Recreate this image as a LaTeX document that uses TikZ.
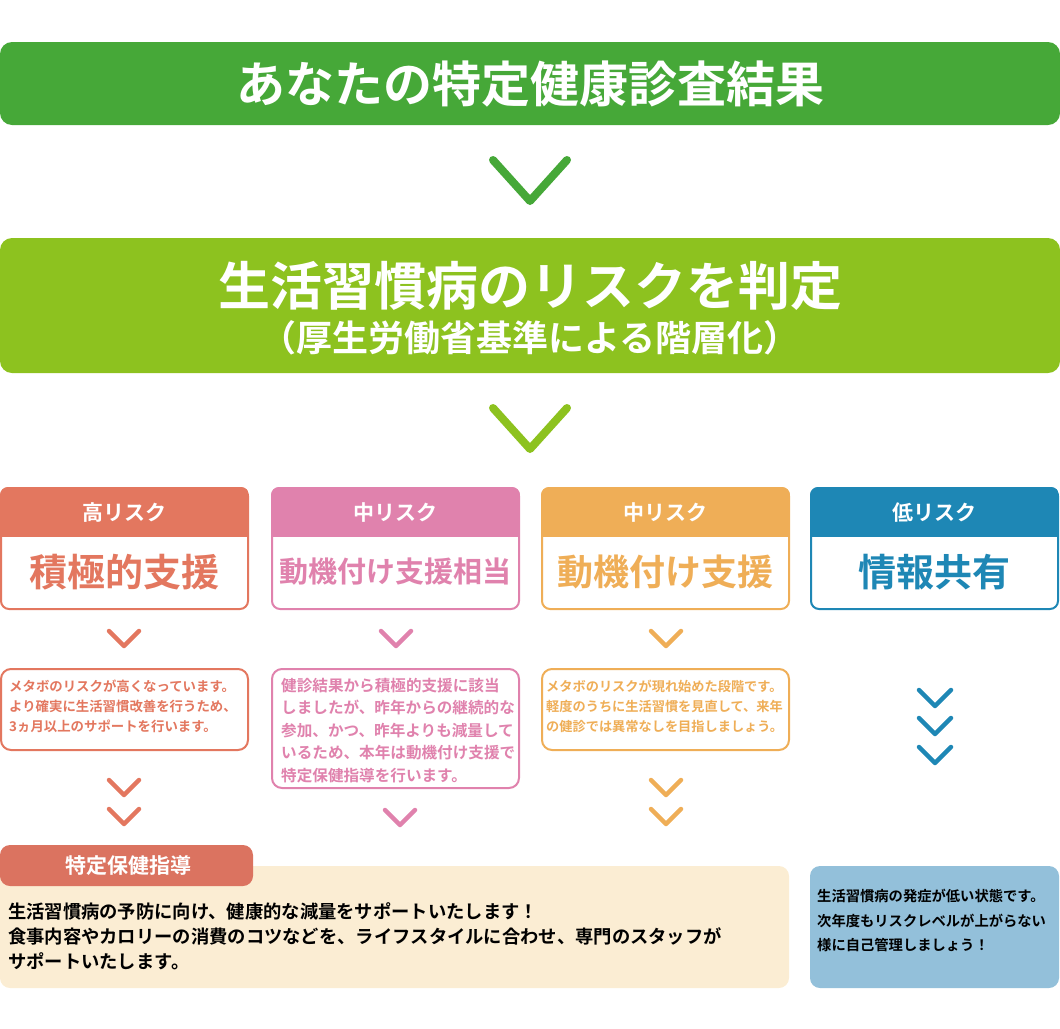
\documentclass[tikz,border=0pt]{standalone}
\usepackage{fontspec}
\setmainfont{Noto Sans CJK JP}[BoldFont={Noto Sans CJK JP Bold}]
\definecolor{gA}{HTML}{46A838}
\definecolor{gB}{HTML}{8DC21F}
\definecolor{cR}{HTML}{E3775F}
\definecolor{cP}{HTML}{E082AD}
\definecolor{cO}{HTML}{EFAE57}
\definecolor{cB}{HTML}{1E87B5}
\definecolor{bgF}{HTML}{FBEDD3}
\definecolor{bgB}{HTML}{93C0DA}
\definecolor{tagR}{HTML}{DB7360}
\begin{document}
\begin{tikzpicture}[x=1pt,y=-1pt,font=\bfseries,
  chev/.style={line width=#1,line cap=round,line join=round},
  cat/.style={draw=#1,fill=white,line width=2pt,rounded corners=8pt},
  desc/.style={draw=#1,fill=white,line width=2pt,rounded corners=10pt},
  dtext/.style={text=#1,font=\bfseries\fontsize{13.4}{20}\selectfont,align=left,anchor=north west,inner sep=0pt}]
\useasboundingbox (0,0) rectangle (1060,1028);
% top boxes
\fill[gA,rounded corners=12pt] (0,42) rectangle (1060,125);
\node[text=white,font=\bfseries\fontsize{49}{50}\selectfont] (t1) at (530,84) {あなたの特定健康診査結果};
\draw[gA,chev=8pt] (493,160) -- (530,201) -- (567,160);
\fill[gB,rounded corners=12pt] (0,238) rectangle (1060,373);
\node[text=white,font=\bfseries\fontsize{52}{54}\selectfont] (t2) at (530,286) {生活習慣病のリスクを判定};
\node[text=white,font=\bfseries\fontsize{36}{38}\selectfont] (t3) at (530,338) {（厚生労働省基準による階層化）};
\draw[gB,chev=8pt] (493,408) -- (530,449) -- (567,408);
% categories
\foreach \x/\c/\h/\m/\s in {0/cR/高リスク/積極的支援/38, 271/cP/中リスク/動機付け支援相当/29, 541/cO/中リスク/動機付け支援/36, 810/cB/低リスク/情報共有/38}{
  \draw[cat=\c] (\x+1,488) rectangle (\x+248,609);
  \begin{scope}
  \clip[rounded corners=8pt] (\x,487) rectangle (\x+249,610);
  \fill[\c] (\x,487) rectangle (\x+249,537);
  \end{scope}
  \node[text=white,font=\bfseries\fontsize{21}{22}\selectfont] at (\x+124.5,513) {\h};
  \node[text=\c,font=\bfseries\fontsize{\s}{40}\selectfont] at (\x+124.5,572) {\m};
}
% small chevrons
\draw[cR,chev=4.5pt] (109,631) -- (124,646) -- (139,631);
\draw[cP,chev=4.5pt] (381,631) -- (396,646) -- (411,631);
\draw[cO,chev=4.5pt] (651,631) -- (666,646) -- (681,631);
% desc boxes
\draw[desc=cR] (1,669) rectangle (248,750);
\node[dtext=cR] (d1) at (9,680) {メタボのリスクが高くなっています。\\より確実に生活習慣改善を行うため、\\3ヵ月以上のサポートを行います。};
\draw[desc=cP] (272,669) rectangle (519,788);
\node[dtext=cP,font=\bfseries\fontsize{15.6}{22.5}\selectfont] (d2) at (281,678) {健診結果から積極的支援に該当\\しましたが、昨年からの継続的な\\参加、かつ、昨年よりも減量して\\いるため、本年は動機付け支援で\\特定保健指導を行います。};
\draw[desc=cO] (542,669) rectangle (789,750);
\node[dtext=cO,font=\bfseries\fontsize{13.2}{20}\selectfont] (d3) at (546,680) {メタボのリスクが現れ始めた段階です。\\軽度のうちに生活習慣を見直して、来年\\の健診では異常なしを目指しましょう。};
% lower chevrons
\draw[cR,chev=4.5pt] (109,780) -- (124,795) -- (139,780);
\draw[cR,chev=4.5pt] (109,809) -- (124,824) -- (139,809);
\draw[cP,chev=4.5pt] (385,810) -- (400,825) -- (415,810);
\draw[cO,chev=4.5pt] (651,780) -- (666,795) -- (681,780);
\draw[cO,chev=4.5pt] (651,809) -- (666,824) -- (681,809);
\foreach \y in {690,718,747}
  \draw[cB,chev=4.5pt] (919,\y) -- (935,\y+16) -- (951,\y);
% footer
\fill[bgF,rounded corners=10pt] (0,866) rectangle (789,988);
\fill[tagR,rounded corners=10pt] (0,845) rectangle (253,886);
\node[text=white,font=\bfseries\fontsize{21}{22}\selectfont] (tag) at (128,866) {特定保健指導};
\node[dtext=black,font=\bfseries\fontsize{18.3}{25}\selectfont] (f1) at (8,902) {生活習慣病の予防に向け、健康的な減量をサポートいたします！\\食事内容やカロリーの消費のコツなどを、ライフスタイルに合わせ、専門のスタッフが\\サポートいたします。};
\fill[bgB,rounded corners=10pt] (810,866) rectangle (1059,988);
\node[dtext=black,font=\bfseries\fontsize{14.3}{24.5}\selectfont] (f2) at (817,889) {生活習慣病の発症が低い状態です。\\次年度もリスクレベルが上がらない\\様に自己管理しましょう！};
\end{tikzpicture}
\end{document}
